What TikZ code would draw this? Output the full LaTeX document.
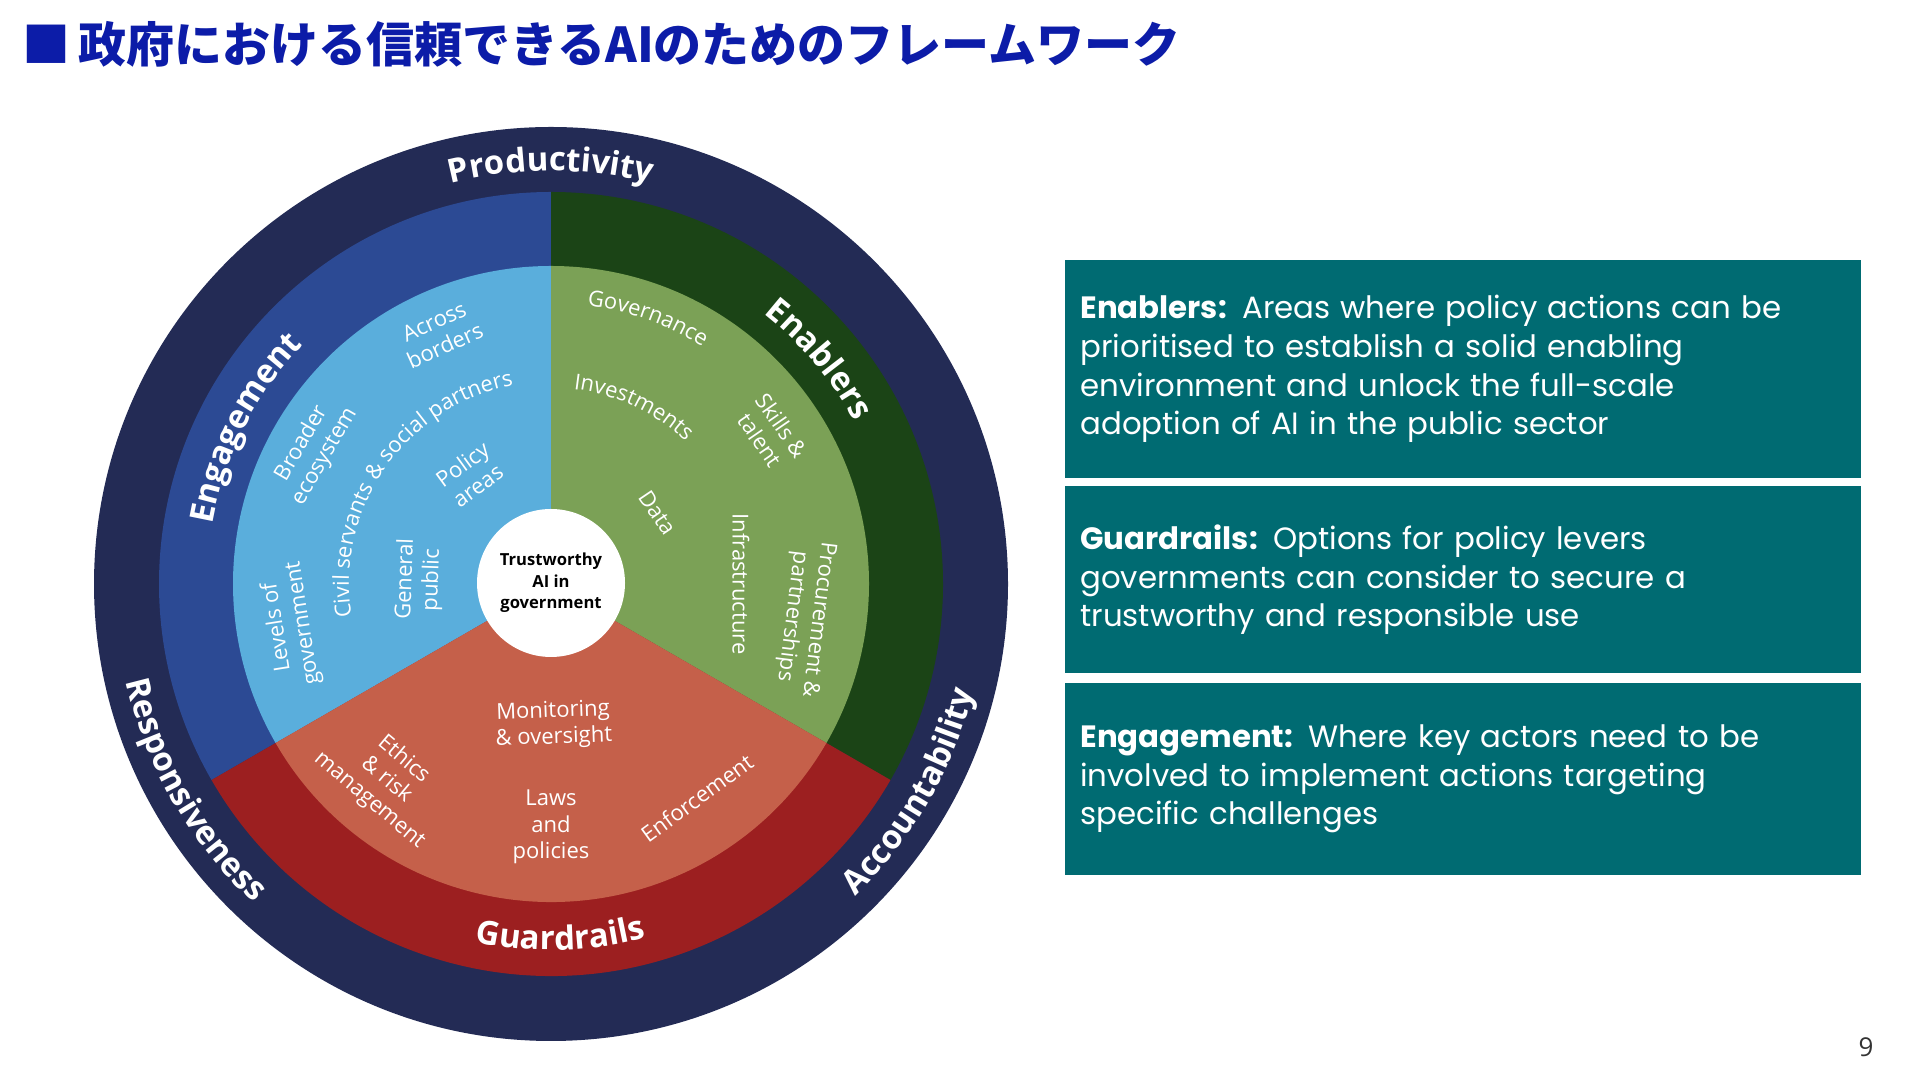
\documentclass[tikz,border=0pt]{standalone}
\usepackage{fontspec}
\setmainfont{Open Sans}
\newfontfamily\jpfont{Noto Sans CJK JP}
\newfontfamily\cardfont{Poppins}
\usetikzlibrary{decorations.text, positioning}
\definecolor{navy}{HTML}{232B55}
\definecolor{engdark}{HTML}{2C4A94}
\definecolor{englight}{HTML}{5AAEDC}
\definecolor{enadark}{HTML}{1B4416}
\definecolor{enalight}{HTML}{7BA156}
\definecolor{guadark}{HTML}{9C1F20}
\definecolor{gualight}{HTML}{C5604A}
\definecolor{cardteal}{HTML}{006B72}
\definecolor{ttlblue}{HTML}{0C1CA8}
\tikzset{
  lab/.style = {text=white, inner sep=0pt, align=center,
    font=\fontsize{11}{13.2}\selectfont},
  core/.style = {circle, fill=white, minimum size=74pt, inner sep=0pt,
    align=center, font=\bfseries\fontsize{8.3}{10.75}\selectfont},
  card/.style = {fill=cardteal, text=white, minimum width=398pt,
    text width=383pt, inner xsep=7.5pt, inner ysep=0pt, align=left,
    font=\cardfont\fontsize{15.4}{19.3}\selectfont},
  ttl/.style = {anchor=west, text=ttlblue, inner sep=0pt,
    font=\jpfont\bfseries\fontsize{24}{28}\selectfont},
  pnum/.style = {text=black!80, inner sep=0pt, font=\fontsize{13}{15}\selectfont}
}
\newcommand{\ringfont}{\bfseries\fontsize{16.5}{20}\selectfont\color{white}}
\newcommand{\labfont}{\fontsize{11}{13}\selectfont\color{white}}
% curved label: font, text, radius, start angle, end angle
\newcommand{\arclab}[5]{\path [decorate, decoration={text along path,
  text align=center, text={|#1|#2}}] (#4:#3) arc [start angle=#4, end angle=#5, radius=#3];}

\begin{document}
\begin{tikzpicture}[x=0.5pt, y=0.5pt]
  \useasboundingbox [fill=white] (0,0) rectangle (1920,1080);
  \node [ttl] (title) at (22,1036) {■\hspace{4pt}政府における信頼できるAIのためのフレームワーク};
  \node [pnum] (page) at (1866,33) {9};

  \begin{scope}[shift={(551,496)}]
    \fill [navy] (0,0) circle (457);
    \fill [engdark] (0,0) -- (90:392) arc [start angle=90, end angle=210, radius=392] -- cycle;
    \fill [enadark] (0,0) -- (90:392) arc [start angle=90, end angle=-30, radius=392] -- cycle;
    \fill [guadark] (0,0) -- (210:392) arc [start angle=210, end angle=330, radius=392] -- cycle;
    \fill [englight] (0,0) -- (90:318) arc [start angle=90, end angle=210, radius=318] -- cycle;
    \fill [enalight] (0,0) -- (90:318) arc [start angle=90, end angle=-30, radius=318] -- cycle;
    \fill [gualight] (0,0) -- (210:318) arc [start angle=210, end angle=330, radius=318] -- cycle;
    \node [core] (core) at (0,1) {Trustworthy\\AI in\\government};

    % outer ring
    \arclab{\ringfont}{Productivity}{413}{150}{30}
    \arclab{\ringfont}{Accountability}{436}{-90}{30}
    \arclab{\ringfont}{Responsiveness}{436}{150}{270}
    % pillars
    \arclab{\ringfont}{Enablers}{344}{100}{-20}
    \arclab{\ringfont}{Engagement}{344}{213}{93}
    \arclab{\ringfont}{Guardrails}{366}{-148.5}{-28.5}

    % engagement
    \node [lab, rotate=24] (across) at (114:274) {Across\\borders};
    \node [lab, rotate=60] (broader) at (150.6:273) {Broader\\ecosystem};
    \node [lab, rotate=99] (levels) at (189:264) {Levels of\\government};
    \arclab{\labfont}{Civil servants {\&} social partners}{202}{205}{85}
    \node [lab, rotate=36] (policy) at (126.6:136) {Policy\\areas};
    \node [lab, rotate=88] (public) at (178:132) {General\\public};
    % enablers
    \arclab{\labfont}{Governance}{281}{130}{10}
    \arclab{\labfont}{Investments}{196}{125}{5}
    \node [lab, rotate=-55.5] (skills) at (34.5:267) {Skills \&\\talent};
    \node [lab, rotate=-56] (data) at (33.8:128) {Data};
    \node [lab, rotate=-90] (infra) at (0:190) {Infrastructure};
    \node [lab, rotate=-97] (procure) at (-7.6:256) {Procurement \&\\partnerships};
    % guardrails
    \node [lab, rotate=2] (monitor) at (-89:141) {Monitoring\\\& oversight};
    \node [lab] (laws) at (-90:243) {Laws\\and\\policies};
    \node [lab, rotate=-40] (ethics) at (-130:256) {Ethics\\\& risk\\management};
    \node [lab, rotate=36] (enforce) at (-55.7:259) {Enforcement};
  \end{scope}

  \node [card, anchor=north west, minimum height=109pt] (enab) at (1065,820.4)
    {\textbf{Enablers:} Areas where policy actions can be\\prioritised to establish a solid enabling\\environment and unlock the full-scale\\adoption of AI in the public sector};
  \node [card, minimum height=93.7pt, below=3.6pt of enab] (guar)
    {\textbf{Guardrails:} Options for policy levers\\governments can consider to secure a\\trustworthy and responsible use};
  \node [card, minimum height=96.2pt, below=4.2pt of guar] (enga)
    {\textbf{Engagement:} Where key actors need to be\\involved to implement actions targeting\\specific challenges};
\end{tikzpicture}
\end{document}
